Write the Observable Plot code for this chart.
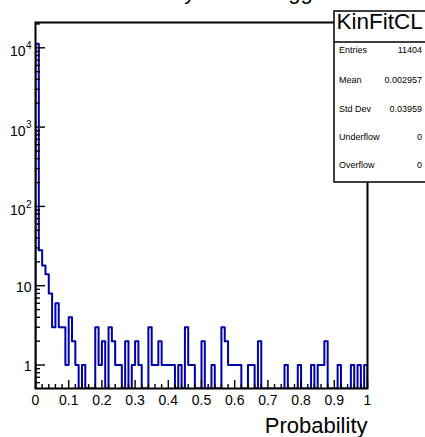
<!DOCTYPE html>
<html>
<head>
<meta charset="utf-8">
<script src="https://cdn.jsdelivr.net/npm/d3@7"></script>
<script src="https://cdn.jsdelivr.net/npm/@observablehq/plot@0.6"></script>
<style>
  html, body { margin: 0; padding: 0; background: #fff; }
  body { width: 425px; height: 437px; overflow: hidden;
         font-family: "Liberation Sans", Arial, Helvetica, sans-serif; }
  #chart svg { display: block; }
</style>
</head>
<body>
<div id="chart"></div>
<script>
// Histogram KinFitCL: 100 bins on [0, 1]
const histName = "KinFitCL";
const histTitle = "Probability before trigger";
const xMin = 0, xMax = 1, nBins = 100;
const binCounts = [
  11244, 28, 18, 14, 8, 3, 6, 3, 3, 1,
  4, 2, 1, 0, 1, 0, 0, 0, 3, 1,
  2, 0, 3, 2, 1, 1, 0, 2, 0, 1,
  2, 1, 0, 0, 3, 1, 1, 2, 1, 1,
  1, 1, 0, 1, 0, 3, 1, 1, 0, 0,
  2, 0, 0, 1, 0, 0, 3, 2, 1, 1,
  1, 1, 0, 0, 1, 1, 0, 2, 0, 0,
  0, 0, 0, 0, 0, 1, 0, 0, 0, 1,
  0, 0, 0, 1, 0, 1, 1, 2, 0, 0,
  0, 1, 0, 0, 0, 1, 0, 1, 0, 1
];

// Statistics box
const statNames = ["Entries", "Mean", "Std Dev", "Underflow", "Overflow"];
const statValues = ["11404", "0.002957", "0.03959", "0", "0"];

// Axis ticks and labels
const xLabel = "Probability";
const xMajorTicks = [0, 0.1, 0.2, 0.3, 0.4, 0.5, 0.6, 0.7, 0.8, 0.9, 1];
const xMajorLabels = ["0", "0.1", "0.2", "0.3", "0.4", "0.5", "0.6", "0.7", "0.8", "0.9", "1"];
const yDomain = [0.506, 20840];
const yPlainTicks = [1, 10];
const yPlainLabels = ["1", "10"];
const yPowerTicks = [100, 1000, 10000];
const yPowerExponents = ["2", "3", "4"];

// Derived tick sets
const binWidth = (xMax - xMin) / nBins;
const xMinorTicks = d3.range(0, 51).map(i => xMin + i * 0.02).filter(v => !xMajorTicks.some(m => Math.abs(m - v) < 1e-9));
const yMajorTicks = [...yPlainTicks, ...yPowerTicks];
const yMinorTicks = [];
for (const decade of [0.1, 1, 10, 100, 1000, 10000]) {
  for (let k = 2; k <= 9; k++) {
    const v = decade * k;
    if (v > yDomain[0] && v < yDomain[1]) yMinorTicks.push(v);
  }
}

// Step outline of the histogram (empty bins drop to the bottom of the frame)
const floor = yDomain[0];
const outline = [{x: xMin, y: floor}];
binCounts.forEach((c, i) => outline.push({x: xMin + i * binWidth, y: Math.max(c, floor)}));
outline.push({x: xMax, y: Math.max(binCounts[nBins - 1], floor)});
outline.push({x: xMax, y: floor});

const W = 425, H = 437;
const mL = 35, mR = 58, mT = 22, mB = 49;
const innerW = W - mL - mR, innerH = H - mT - mB;
const font = "Liberation Sans, Arial, Helvetica, sans-serif";

const chart = Plot.plot({
  width: W,
  height: H,
  marginLeft: mL,
  marginRight: mR,
  marginTop: mT,
  marginBottom: mB,
  style: {fontFamily: font, background: "#fff", color: "#000"},
  x: {domain: [xMin, xMax], axis: null},
  y: {type: "log", domain: yDomain, axis: null},
  marks: [
    Plot.line(outline, {x: "x", y: "y", curve: "step-after", stroke: "#0000a8", strokeWidth: 2, clip: true}),
    // inward ticks on the bottom axis
    Plot.ruleX(xMajorTicks, {x: d => d, insetTop: innerH - 8, stroke: "#000", strokeWidth: 1.4}),
    Plot.ruleX(xMinorTicks, {x: d => d, insetTop: innerH - 4, stroke: "#000", strokeWidth: 1.4}),
    // inward ticks on the left axis
    Plot.ruleY(yMajorTicks, {y: d => d, insetRight: innerW - 10, stroke: "#000", strokeWidth: 1.4}),
    Plot.ruleY(yMinorTicks, {y: d => d, insetRight: innerW - 5, stroke: "#000", strokeWidth: 1.4}),
    Plot.frame({stroke: "#000", strokeWidth: 2}),
    // x tick labels
    Plot.text(xMajorTicks, {x: d => d, text: (d, i) => xMajorLabels[i], frameAnchor: "bottom",
      lineAnchor: "top", dy: 7, fontSize: 14, fill: "#000"}),
    // y tick labels
    Plot.text(yPlainTicks, {y: d => d, text: (d, i) => yPlainLabels[i], frameAnchor: "left",
      textAnchor: "end", dx: -4, dy: 1.5, fontSize: 14, fill: "#000"}),
    Plot.text(yPowerTicks, {y: d => d, text: () => "10", frameAnchor: "left",
      textAnchor: "end", dx: -10, dy: 4, fontSize: 14, fill: "#000"}),
    Plot.text(yPowerTicks, {y: d => d, text: (d, i) => yPowerExponents[i], frameAnchor: "left",
      textAnchor: "start", dx: -9.5, dy: -2, fontSize: 10, fill: "#000"}),
    // axis title
    Plot.text([xLabel], {text: d => d, frameAnchor: "bottom-right", textAnchor: "end",
      lineAnchor: "bottom", dy: 44, fontSize: 22, fill: "#000"})
  ]
});

const g = d3.select(chart).append("g").attr("font-family", font).attr("fill", "#000");

// Histogram title, mostly above the top edge of the canvas
g.append("text").attr("x", W / 2).attr("y", -1.5).attr("font-size", 22)
  .attr("text-anchor", "middle").text(histTitle);

// Statistics box in the upper right corner
const box = {x: 334, y: 11, w: 100, h: 171, sep: 42};
g.append("rect").attr("x", box.x).attr("y", box.y).attr("width", box.w).attr("height", box.h)
  .attr("fill", "#fff").attr("stroke", "#000").attr("stroke-width", 1.5);
g.append("line").attr("x1", box.x).attr("x2", box.x + box.w).attr("y1", box.sep).attr("y2", box.sep)
  .attr("stroke", "#000").attr("stroke-width", 1.5);
g.append("text").attr("x", 336.5).attr("y", 29).attr("font-size", 22.5)
  .attr("text-anchor", "start").text(histName);
const rowCenters = [50, 80, 108.5, 137, 165];
statNames.forEach((name, i) => {
  g.append("text").attr("x", 339).attr("y", rowCenters[i] + 3.2).attr("font-size", 9)
    .attr("text-anchor", "start").text(name);
  g.append("text").attr("x", 422).attr("y", rowCenters[i] + 3.2).attr("font-size", 9)
    .attr("text-anchor", "end").text(statValues[i]);
});

document.getElementById("chart").appendChild(chart);
</script>
</body>
</html>
